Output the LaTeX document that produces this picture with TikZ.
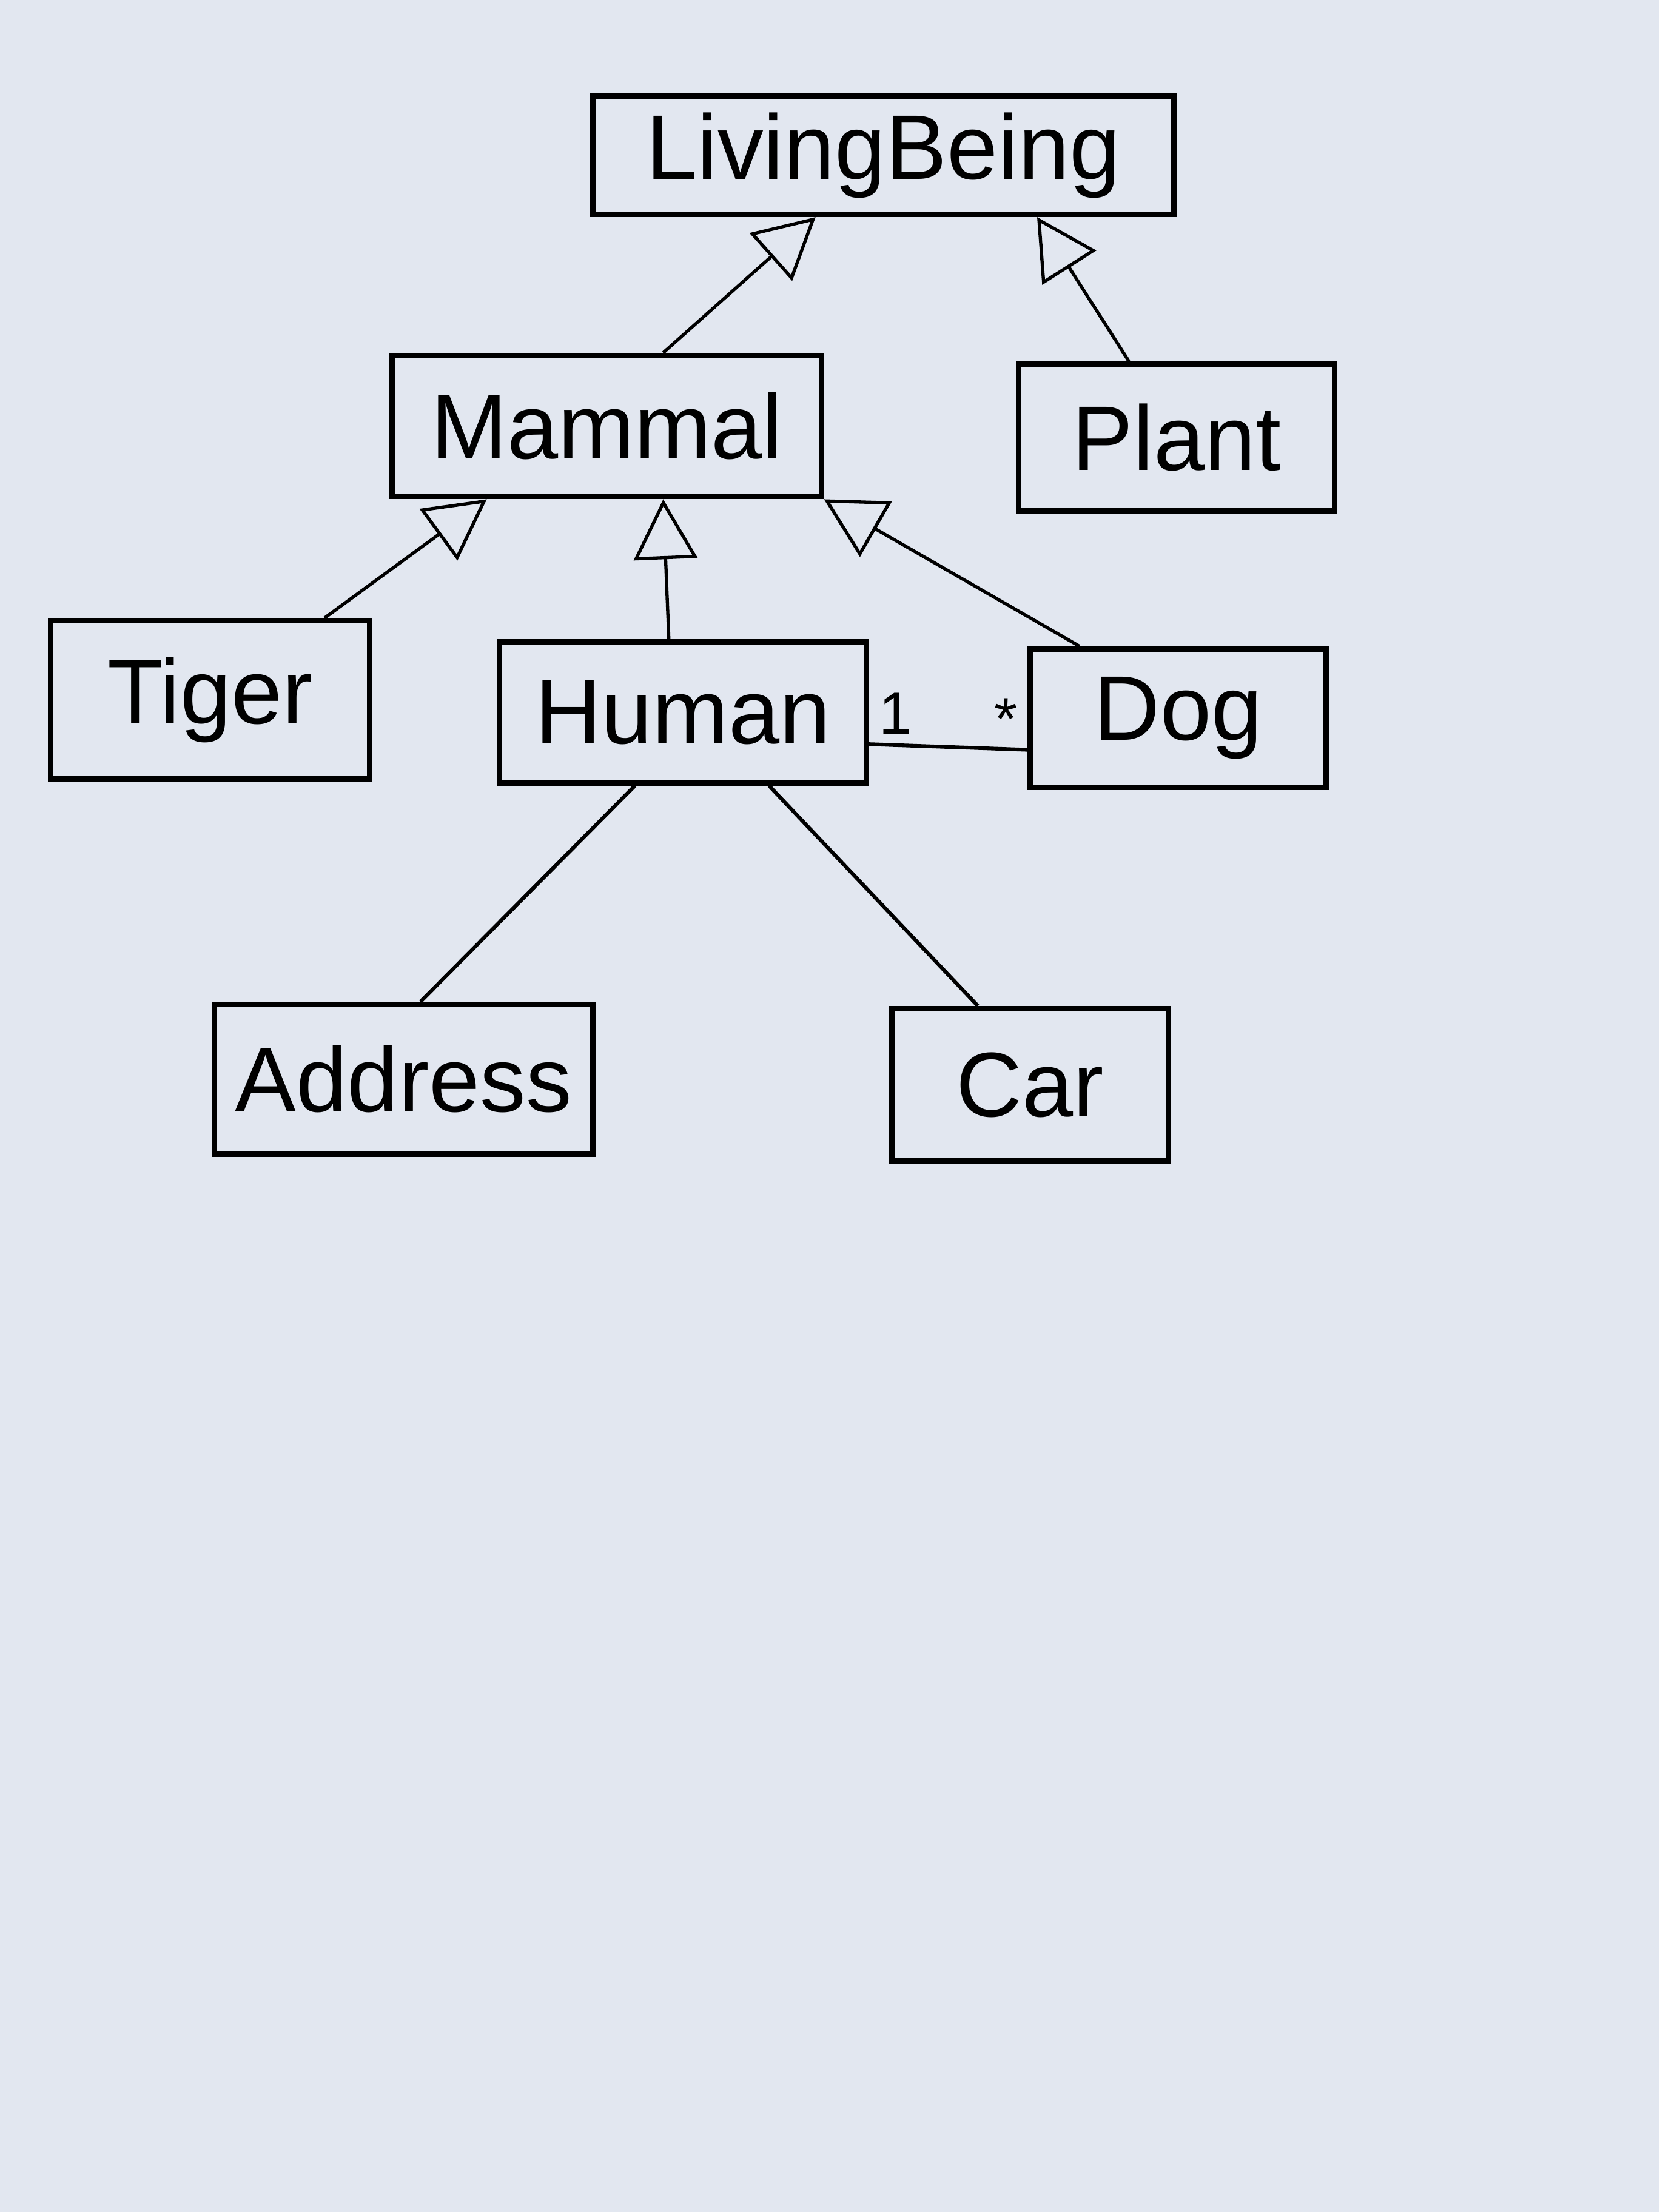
\documentclass[tikz,border=0pt]{standalone}
\usepackage{fontspec}
\setmainfont{Liberation Sans}
\usetikzlibrary{arrows.meta}
\definecolor{paper}{RGB}{226,231,240}
\tikzset{
  cls/.style={draw, line width=2.2pt, inner sep=0pt, font=\fontsize{37}{44}\selectfont},
  gen/.style={line width=1.3pt, -{Triangle[open, length=0.85cm, width=0.9cm, line width=1.3pt]}},
  assoc/.style={line width=1.5pt},
  mult/.style={font=\fontsize{24}{28}\selectfont}
}

\begin{document}
\begin{tikzpicture}
    \path [fill=paper] (0, 0) rectangle (23.52, -31.36);
    \useasboundingbox (0, 0) rectangle (23.52, -31.36);

    \path (12.52, -2.2) node [cls, minimum width=8.24cm, minimum height=1.68cm] (lb) {LivingBeing};
    \path (8.6, -6.04) node [cls, minimum width=6.08cm, minimum height=2cm] (mam) {Mammal};
    \path (16.68, -6.2) node [cls, minimum width=4.48cm, minimum height=2.08cm] (pl) {Plant};
    \draw [gen] ([xshift=0.8cm]mam.north) -- ([xshift=-0.96cm]lb.south);
    \draw [gen] ([xshift=-0.68cm]pl.north) -- ([xshift=2.18cm]lb.south);

    \path (2.98, -9.92) node [cls, minimum width=4.52cm, minimum height=2.24cm] (ti) {Tiger};
    \path (9.68, -10.1) node [cls, minimum width=5.2cm, minimum height=2cm] (hu) {Human};
    \path (16.7, -10.18) node [cls, minimum width=4.2cm, minimum height=1.96cm] (dg) {Dog};
    \draw [gen] ([xshift=1.62cm]ti.north) -- ([xshift=-1.7cm]mam.south);
    \draw [gen] ([xshift=-0.2cm]hu.north) -- ([xshift=0.8cm]mam.south);
    \draw [gen] ([xshift=-1.4cm]dg.north) -- (mam.south east);
    \draw [assoc] ([yshift=-0.45cm]hu.east) -- ([yshift=-0.45cm]dg.west)
        node [mult, pos=0, above right] {1} node [mult, pos=1, above left] {*};

    \path (5.72, -15.3) node [cls, minimum width=5.36cm, minimum height=2.12cm] (ad) {Address};
    \path (14.6, -15.38) node [cls, minimum width=3.92cm, minimum height=2.16cm] (cr) {Car};
    \draw [assoc] ([xshift=-0.68cm]hu.south) -- ([xshift=0.24cm]ad.north);
    \draw [assoc] ([xshift=1.22cm]hu.south) -- ([xshift=-0.74cm]cr.north);
\end{tikzpicture}
\end{document}
